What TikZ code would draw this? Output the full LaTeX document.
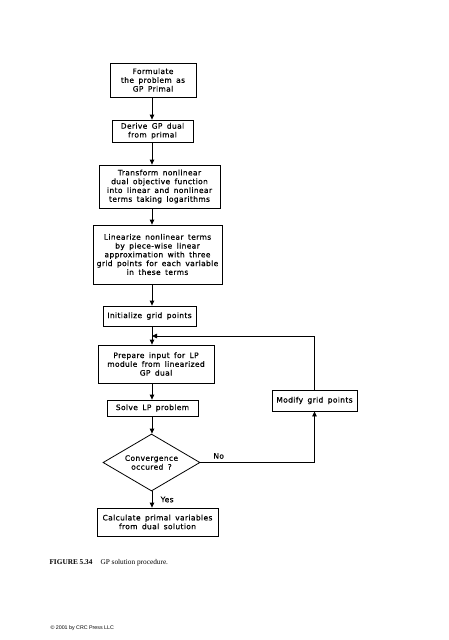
\documentclass[tikz,border=0pt]{standalone}
\usepackage{fontspec}
\setmainfont{Liberation Serif}
\newfontfamily\cadfont[LetterSpace=5, WordSpace=1.6, FakeBold=0.6]{DejaVu Sans}
\newfontfamily\notefont{Liberation Sans}
\usetikzlibrary{shapes.geometric}
\usetikzlibrary{arrows.meta}

\begin{document}
\begin{tikzpicture}[x=1pt, y=-1pt,
        stepbox/.style={draw, line width=0.8pt, align=center, inner sep=0pt,
            font=\cadfont\fontsize{7.5}{8.8}\selectfont},
        flow/.style={-{Triangle[length=5pt,width=4.5pt]}, line width=0.8pt}]
        \useasboundingbox (0,0) rectangle (449,640);
        \coordinate (spine) at (152,0);
        \coordinate (join) at (152,336);

        \node[stepbox, minimum width=86, minimum height=34] (prim) at (153,80) {Formulate\\the problem as\\GP Primal};
        \node[stepbox, minimum width=81, minimum height=22] (dual) at (152.5,131) {Derive GP dual\\from primal};
        \node[stepbox, minimum width=121, minimum height=43] (logs) at (159.5,186.5) {Transform nonlinear\\dual objective function\\into linear and nonlinear\\terms taking logarithms};
        \node[stepbox, minimum width=129, minimum height=59] (lin) at (157.5,254.5) {Linearize nonlinear terms\\by piece-wise linear\\approximation with three\\grid points for each variable\\in these terms};
        \node[stepbox, minimum width=93, minimum height=20] (init) at (149.5,316) {Initialize grid points};
        \node[stepbox, minimum width=116, minimum height=38] (prep) at (156,364) {Prepare input for LP\\module from linearized\\GP dual};
        \node[stepbox, minimum width=91, minimum height=16] (solve) at (152.5,408) {Solve LP problem};
        \node[stepbox, diamond, aspect=1.7, minimum width=97, minimum height=57] (conv) at (151.5,462.5) {Convergence\\occured ?};
        \node[stepbox, minimum width=121, minimum height=28] (calc) at (157.5,522) {Calculate primal variables\\from dual solution};
        \node[stepbox, minimum width=85, minimum height=21] (mod) at (314.5,400.5) {Modify grid points};

        \foreach \a/\b in {prim/dual, dual/logs, logs/lin, lin/init, init/prep, prep/solve, solve/conv}
            \draw[flow] (\a.south -| spine) -- (\b.north -| spine);
        \draw[flow] (conv.south -| spine) -- node[anchor=west, xshift=5pt, font=\cadfont\fontsize{7.5}{8.8}\selectfont] {Yes} (calc.north -| spine);
        \draw[flow] (conv.east) -- node[pos=0.16, anchor=south, font=\cadfont\fontsize{7.5}{8.8}\selectfont] {No} (conv.east -| mod.south) -- (mod.south);
        \draw[flow] (mod.north) |- (join);

        \node[anchor=west, font=\fontsize{7.3}{8}\selectfont] (cap) at (46,563) {\textbf{FIGURE 5.34}\hspace{1.1em}GP solution procedure.};
        \node[anchor=west, font=\notefont\fontsize{5.3}{6}\selectfont] (copy) at (47,628) {© 2001 by CRC Press LLC};
    \end{tikzpicture}
\end{document}
